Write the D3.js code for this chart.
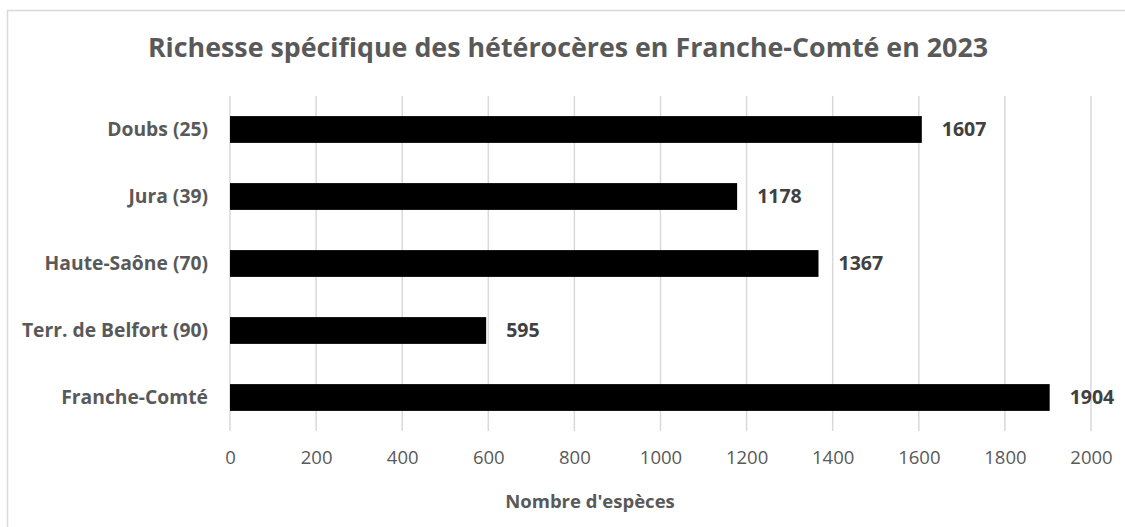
<!DOCTYPE html>
<html>
    <head>
        <meta charset="utf-8">
        <script src="https://d3js.org/d3.v7.min.js"></script>
        <style>
            body {
                margin: 0;
                background: #fff;
                font-family: 'Open Sans', sans-serif;
            }
            .axis path { display: none; }
            .axis text { fill: #595959; }
            .grid line { stroke: #d9d9d9; stroke-width: 1.5; }
        </style>
    </head>
    <body>
        <svg></svg>
    </body>
    <script>
        // data
        var categories = ['Doubs (25)', 'Jura (39)', 'Haute-Saône (70)', 'Terr. de Belfort (90)', 'Franche-Comté'];
        var values = [1607, 1178, 1367, 595, 1904];
        var xTicks = [0, 200, 400, 600, 800, 1000, 1200, 1400, 1600, 1800, 2000];
        var title = 'Richesse spécifique des hétérocères en Franche-Comté en 2023';
        var xTitle = "Nombre d'espèces";

        var W = 1125, H = 527;
        var margin = {top: 96, right: 34, bottom: 96, left: 230},
            width = W - margin.left - margin.right,
            height = H - margin.top - margin.bottom;

        var svg = d3.select('svg')
            .attr('width', W)
            .attr('height', H);

        // chart frame
        svg.append('rect')
            .attr('x', 7.5).attr('y', 10.5)
            .attr('width', W).attr('height', H)
            .attr('fill', 'none')
            .attr('stroke', '#d9d9d9')
            .attr('stroke-width', 1.5);

        var g = svg.append('g')
            .attr('transform', 'translate(' + margin.left + ',' + margin.top + ')');

        var x = d3.scaleLinear().domain([0, 2000]).range([0, width]);
        var y = d3.scaleBand().domain(categories).range([0, height])
            .paddingInner(0.6).paddingOuter(0.3);

        // gridlines
        g.append('g')
            .attr('class', 'grid')
            .selectAll('line')
            .data(xTicks)
            .enter().append('line')
                .attr('x1', function (d) { return x(d); })
                .attr('x2', function (d) { return x(d); })
                .attr('y1', 0)
                .attr('y2', height);

        // x axis
        var xAxis = g.append('g')
            .attr('class', 'axis')
            .attr('transform', 'translate(0,' + height + ')')
            .call(d3.axisBottom(x).tickValues(xTicks).tickSize(0).tickFormat(d3.format('d')));
        xAxis.selectAll('text')
            .attr('y', 27)
            .attr('dy', '0.35em')
            .style('font-size', '18.5px')
            .style('font-family', "'Open Sans', sans-serif");

        // y axis
        var yAxis = g.append('g')
            .attr('class', 'axis')
            .call(d3.axisLeft(y).tickSize(0));
        yAxis.selectAll('text')
            .attr('x', -22)
            .attr('dy', '0.35em')
            .style('font-size', '19.3px')
            .style('font-weight', 'bold')
            .style('font-family', "'Open Sans', sans-serif");

        // bars
        var rows = categories.map(function (c, i) { return {cat: c, val: values[i]}; });
        g.selectAll('.bar').data(rows)
            .enter().append('rect')
                .attr('class', 'bar')
                .attr('x', 0)
                .attr('y', function (d) { return y(d.cat); })
                .attr('width', function (d) { return x(d.val); })
                .attr('height', y.bandwidth())
                .attr('fill', '#000');

        // value labels
        g.selectAll('.val').data(rows)
            .enter().append('text')
                .attr('class', 'val')
                .attr('x', function (d) { return x(d.val) + 20; })
                .attr('y', function (d) { return y(d.cat) + y.bandwidth() / 2; })
                .attr('dy', '0.35em')
                .style('font-size', '19.5px')
                .style('font-weight', 'bold')
                .style('fill', '#404040')
                .text(function (d) { return d.val; });

        // title
        svg.append('text')
            .attr('x', 568)
            .attr('y', 57)
            .attr('text-anchor', 'middle')
            .style('font-size', '26.8px')
            .style('font-weight', 'bold')
            .style('fill', '#595959')
            .text(title);

        // x axis title
        svg.append('text')
            .attr('x', 590)
            .attr('y', 508)
            .attr('text-anchor', 'middle')
            .style('font-size', '18.5px')
            .style('font-weight', 'bold')
            .style('fill', '#595959')
            .text(xTitle);
    </script>
</html>
